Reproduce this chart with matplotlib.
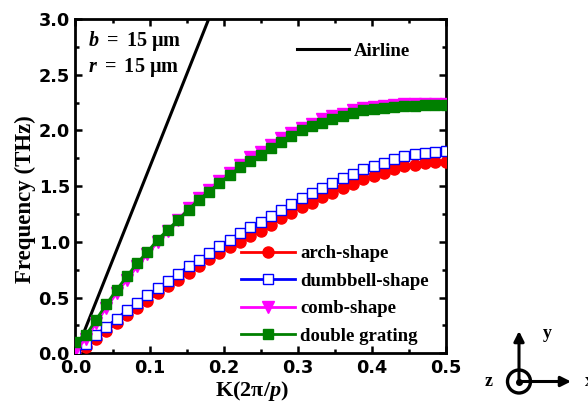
import numpy as np
import matplotlib
matplotlib.use("Agg")
import matplotlib.pyplot as plt
from matplotlib.lines import Line2D

plt.rcParams['mathtext.fontset'] = 'custom'
plt.rcParams['mathtext.rm'] = 'Liberation Serif:bold'
plt.rcParams['mathtext.it'] = 'Liberation Serif:bold:italic'
plt.rcParams['mathtext.bf'] = 'Liberation Serif:bold'

# ---------------- data ----------------
K = np.arange(37) / 72.0

arch = [0.00, 0.06, 0.13, 0.20, 0.27, 0.34, 0.41, 0.47, 0.54, 0.60, 0.66, 0.72, 0.78,
        0.845, 0.90, 0.95, 1.00, 1.05, 1.10, 1.15, 1.21, 1.26, 1.31, 1.35, 1.40, 1.44,
        1.48, 1.52, 1.56, 1.59, 1.62, 1.65, 1.68, 1.69, 1.71, 1.72, 1.72]
dumbbell = [0.01, 0.08, 0.16, 0.235, 0.31, 0.385, 0.455, 0.52, 0.585, 0.65, 0.715, 0.78,
            0.84, 0.90, 0.96, 1.02, 1.08, 1.13, 1.18, 1.23, 1.29, 1.34, 1.39, 1.44, 1.48,
            1.53, 1.57, 1.61, 1.65, 1.68, 1.71, 1.74, 1.77, 1.79, 1.80, 1.81, 1.82]
comb = [0.02, 0.13, 0.27, 0.41, 0.54, 0.66, 0.78, 0.89, 1.00, 1.10, 1.20, 1.30, 1.39,
        1.47, 1.55, 1.62, 1.69, 1.76, 1.81, 1.87, 1.93, 1.98, 2.02, 2.06, 2.10, 2.13,
        2.15, 2.18, 2.20, 2.21, 2.22, 2.23, 2.24, 2.24, 2.24, 2.24, 2.24]
double = [0.10, 0.16, 0.30, 0.44, 0.57, 0.69, 0.81, 0.91, 1.02, 1.11, 1.20, 1.29, 1.38,
          1.45, 1.53, 1.60, 1.67, 1.73, 1.78, 1.84, 1.90, 1.95, 2.00, 2.04, 2.07, 2.10,
          2.13, 2.16, 2.18, 2.19, 2.20, 2.21, 2.22, 2.22, 2.23, 2.23, 2.23]
air_K = [0.0, 0.18]
air_f = [0.0, 3.0]

labels = ['arch-shape', 'dumbbell-shape', 'comb-shape', 'double grating']
xticks = [0.0, 0.1, 0.2, 0.3, 0.4, 0.5]
yticks = [0.0, 0.5, 1.0, 1.5, 2.0, 2.5, 3.0]

# ---------------- figure ----------------
fig = plt.figure(figsize=(5.88, 4.05), dpi=100)
ax = fig.add_axes([0.1284, 0.1277, 0.6293, 0.8253])

ax.plot(air_K, air_f, color='black', lw=2.2, zorder=2)
l1, = ax.plot(K, arch, color='red', lw=2, marker='o', ms=8, mec='red', mfc='red', zorder=3)
l2, = ax.plot(K, dumbbell, color='blue', lw=2, marker='s', ms=7, mec='blue', mfc='white',
              mew=1, zorder=4)
l3, = ax.plot(K, comb, color='magenta', lw=2, marker='v', ms=8.5, mec='magenta',
              mfc='magenta', zorder=5)
l4, = ax.plot(K, double, color='green', lw=2, marker='s', ms=7.6, mec='green', mfc='green',
              zorder=6)

ax.set_xlim(0, 0.5)
ax.set_ylim(0, 3.0)
ax.set_xticks(xticks)
ax.set_yticks(yticks)
ax.set_xticks([0.05, 0.15, 0.25, 0.35, 0.45], minor=True)
ax.set_yticks([0.25, 0.75, 1.25, 1.75, 2.25, 2.75], minor=True)
ax.tick_params(which='both', direction='in', top=True, right=True, width=1.8)
ax.tick_params(which='major', length=5)
ax.tick_params(which='minor', length=3)
ax.tick_params(axis='both', which='major', pad=4)
for lab in ax.get_xticklabels() + ax.get_yticklabels():
    lab.set_fontfamily('DejaVu Sans')
    lab.set_fontweight('bold')
    lab.set_fontsize(12.7)
for s in ax.spines.values():
    s.set_linewidth(2)

ax.set_ylabel('Frequency (THz)', fontfamily='Liberation Serif', fontweight='bold',
              fontsize=16.5)
ax.yaxis.set_label_coords(-0.108, 0.46)
ax.set_xlabel(r'$\mathrm{K(2π/}p\mathrm{)}$', fontsize=16)
ax.xaxis.set_label_coords(0.477, -0.077)

ax.text(0.035, 0.935, r'$b\mathrm{\ =\ 15\ μm}$', transform=ax.transAxes, fontsize=14.5,
        va='center', ha='left')
ax.text(0.035, 0.855, r'$r\mathrm{\ =\ 15\ μm}$', transform=ax.transAxes, fontsize=14.5,
        va='center', ha='left')

leg1 = ax.legend([Line2D([0], [0], color='black', lw=2.2)], ['Airline'],
                 loc='upper right', bbox_to_anchor=(0.95, 0.98), frameon=False,
                 prop={'family': 'Liberation Serif', 'weight': 'bold', 'size': 13.5},
                 handlelength=2.8, handletextpad=0.25)
ax.add_artist(leg1)
ax.legend([l1, l2, l3, l4], labels, loc='lower right', bbox_to_anchor=(1.0, -0.025),
          frameon=False, prop={'family': 'Liberation Serif', 'weight': 'bold', 'size': 13.5},
          handlelength=2.9, handletextpad=0.25, labelspacing=0.55)

# coordinate icon
ov = fig.add_axes([0, 0, 1, 1])
ov.set_xlim(0, 588)
ov.set_ylim(405, 0)
ov.axis('off')
ov.patch.set_alpha(0)
ox, oy = 519, 381.5
ov.annotate('', xy=(ox, 331), xytext=(ox, oy),
            arrowprops=dict(arrowstyle='-|>', color='black', lw=2.2, mutation_scale=15,
                            shrinkA=0, shrinkB=0))
ov.annotate('', xy=(571, oy), xytext=(ox, oy),
            arrowprops=dict(arrowstyle='-|>', color='black', lw=2.2, mutation_scale=15,
                            shrinkA=0, shrinkB=0))
ov.add_patch(plt.Circle((ox, oy), 11.5, fill=False, lw=2.4, color='black'))
ov.plot([ox], [oy], 'o', color='black', ms=4)
ov.text(547, 334, 'y', fontfamily='Liberation Serif', fontweight='bold', fontsize=13,
        ha='center', va='center')
ov.text(489, 381, 'z', fontfamily='Liberation Serif', fontweight='bold', fontsize=13,
        ha='center', va='center')
ov.text(585, 381, 'x', fontfamily='Liberation Serif', fontweight='bold', fontsize=13,
        ha='left', va='center')

fig.savefig('out.png', dpi=100)
